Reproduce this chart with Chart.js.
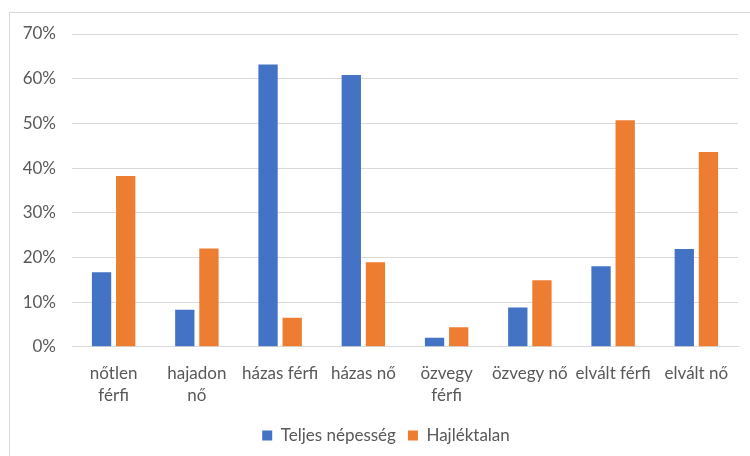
<!DOCTYPE html>
<html>
<head>
<meta charset="utf-8">
<script src="https://cdn.jsdelivr.net/npm/chart.js@4"></script>
<style>
  body { margin: 0; background: #fff; }
  #frame { position: absolute; left: 9px; top: 12px; width: 760px; height: 460px;
           border-left: 1px solid #d9d9d9; border-top: 1px solid #d9d9d9; }
  #wrap { position: absolute; left: 0; top: 0; width: 750px; height: 456px; }
</style>
</head>
<body>
<div id="frame"></div>
<div id="wrap"><canvas id="chart" width="750" height="456"></canvas></div>
<script>
var categories = [['nőtlen', 'férfi'], ['hajadon', 'nő'], 'házas férfi', 'házas nő',
    ['özvegy', 'férfi'], 'özvegy nő', 'elvált férfi', 'elvált nő']
var teljes = [16.7, 8.3, 63.2, 60.8, 2.0, 8.8, 18.0, 21.9]
var hajlektalan = [38.2, 22.0, 6.5, 18.9, 4.4, 14.9, 50.7, 43.6]
var seriesNames = ['Teljes népesség', 'Hajléktalan']

var fontFamily = 'Lato, "Open Sans", sans-serif'
var gray = '#595959'

// legend sits a bit right of the canvas centre in the original
var legendShift = {
    id: 'legendShift',
    afterUpdate: function(chart) {
        chart.legend.left += 12
        chart.legend.right += 12
    }
}

var ctx = document.getElementById('chart').getContext('2d')
var chart = new Chart(ctx, {
    type: 'bar',
    data: {
        labels: categories,
        datasets: [
            { label: seriesNames[0], data: teljes, backgroundColor: '#4472c4',
              barPercentage: 0.8, categoryPercentage: 0.58 },
            { label: seriesNames[1], data: hajlektalan, backgroundColor: '#ed7d31',
              barPercentage: 0.8, categoryPercentage: 0.58 }
        ]
    },
    plugins: [legendShift],
    options: {
        responsive: false,
        animation: false,
        layout: { padding: { left: 10, top: 34, right: 12, bottom: 2 } },
        plugins: {
            legend: {
                position: 'bottom',
                labels: { boxWidth: 10, boxHeight: 10, color: gray, padding: 12,
                          font: { family: fontFamily, size: 17 } }
            },
            tooltip: { enabled: false }
        },
        scales: {
            x: {
                grid: { display: false },
                border: { color: '#d9d9d9' },
                ticks: { color: gray, maxRotation: 0, autoSkip: false, padding: 8,
                         font: { family: fontFamily, size: 17, lineHeight: 1.3 } }
            },
            y: {
                min: 0, max: 70,
                afterFit: function(scale) { scale.width = 62 },
                grid: { color: '#d9d9d9', drawTicks: false },
                border: { display: false },
                ticks: { stepSize: 10, color: gray, padding: 16,
                         font: { family: fontFamily, size: 17 },
                         callback: function(v) { return v + '%' } }
            }
        }
    }
})
</script>
</body>
</html>
